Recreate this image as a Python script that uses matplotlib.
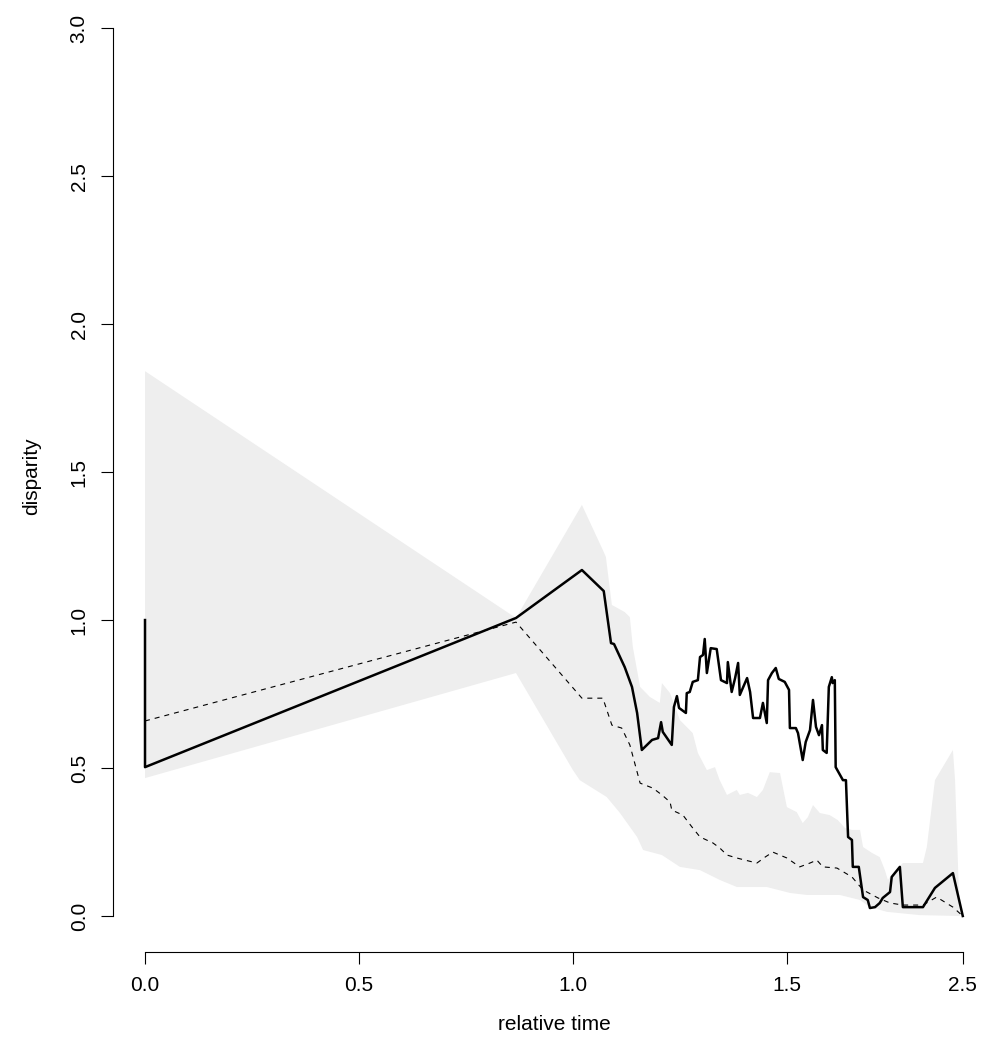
import numpy as np
import matplotlib
matplotlib.use("Agg")
import matplotlib.pyplot as plt

# observed disparity (solid line)
obs_x = [0.0, 0.0, 0.867, 1.021, 1.072, 1.089, 1.096, 1.121, 1.138, 1.150, 1.161,
         1.173, 1.185, 1.199, 1.206, 1.210, 1.231, 1.236, 1.243, 1.248, 1.264, 1.266,
         1.273, 1.280, 1.292, 1.297, 1.304, 1.308, 1.313, 1.322, 1.336, 1.346, 1.360,
         1.362, 1.371, 1.379, 1.386, 1.390, 1.407, 1.414, 1.421, 1.437, 1.444, 1.453,
         1.456, 1.465, 1.474, 1.481, 1.495, 1.505, 1.507, 1.521, 1.526, 1.537, 1.544,
         1.554, 1.561, 1.568, 1.575, 1.582, 1.584, 1.593, 1.598, 1.605, 1.607, 1.612,
         1.614, 1.631, 1.638, 1.643, 1.652, 1.654, 1.668, 1.678, 1.689, 1.694, 1.706,
         1.717, 1.724, 1.741, 1.745, 1.764, 1.771, 1.818, 1.846, 1.888, 1.911]
obs_y = [1.0, 0.503, 1.007, 1.169, 1.098, 0.922, 0.919, 0.841, 0.774, 0.686, 0.561,
         0.578, 0.595, 0.601, 0.655, 0.622, 0.578, 0.706, 0.743, 0.703, 0.686, 0.753,
         0.757, 0.791, 0.797, 0.875, 0.882, 0.936, 0.821, 0.905, 0.902, 0.797, 0.787,
         0.858, 0.757, 0.804, 0.855, 0.747, 0.804, 0.757, 0.669, 0.669, 0.720, 0.652,
         0.797, 0.821, 0.838, 0.801, 0.791, 0.764, 0.635, 0.635, 0.618, 0.527, 0.588,
         0.628, 0.730, 0.639, 0.611, 0.645, 0.561, 0.551, 0.774, 0.807, 0.787, 0.797,
         0.503, 0.459, 0.459, 0.267, 0.257, 0.166, 0.166, 0.064, 0.054, 0.027, 0.030,
         0.044, 0.061, 0.081, 0.132, 0.166, 0.030, 0.030, 0.095, 0.145, 0.0]

# median of simulations (dashed)
med_x = [0.0, 0.867, 1.021, 1.070, 1.091, 1.114, 1.133, 1.157, 1.187, 1.208, 1.227,
         1.231, 1.257, 1.278, 1.297, 1.327, 1.343, 1.360, 1.383, 1.402, 1.430, 1.449,
         1.467, 1.500, 1.530, 1.554, 1.570, 1.584, 1.617, 1.652, 1.678, 1.713, 1.741,
         1.771, 1.818, 1.850, 1.888, 1.911]
med_y = [0.659, 0.993, 0.736, 0.736, 0.645, 0.635, 0.578, 0.449, 0.432, 0.409, 0.385,
         0.358, 0.341, 0.301, 0.267, 0.247, 0.230, 0.206, 0.196, 0.189, 0.179, 0.199,
         0.216, 0.196, 0.166, 0.179, 0.189, 0.166, 0.162, 0.132, 0.088, 0.061, 0.044,
         0.037, 0.037, 0.064, 0.030, 0.0]

# confidence envelope
up_x = [0.0, 0.867, 1.021, 1.072, 1.077, 1.091, 1.121, 1.133, 1.140, 1.157, 1.180,
        1.203, 1.208, 1.227, 1.250, 1.280, 1.292, 1.313, 1.332, 1.343, 1.360, 1.383,
        1.390, 1.409, 1.430, 1.444, 1.460, 1.484, 1.500, 1.523, 1.537, 1.549, 1.561,
        1.577, 1.600, 1.619, 1.636, 1.652, 1.671, 1.678, 1.699, 1.717, 1.729, 1.736,
        1.745, 1.771, 1.818, 1.827, 1.846, 1.888, 1.893, 1.904]
up_y = [1.841, 1.007, 1.389, 1.230, 1.213, 1.051, 1.027, 1.010, 0.909, 0.774, 0.740,
        0.720, 0.787, 0.753, 0.662, 0.618, 0.551, 0.493, 0.503, 0.459, 0.409, 0.426,
        0.409, 0.416, 0.402, 0.426, 0.486, 0.483, 0.368, 0.351, 0.314, 0.334, 0.375,
        0.348, 0.341, 0.324, 0.297, 0.291, 0.291, 0.233, 0.213, 0.199, 0.155, 0.122,
        0.139, 0.179, 0.179, 0.233, 0.459, 0.561, 0.459, 0.0]
lo_x = [0.0, 0.867, 1.0, 1.016, 1.079, 1.110, 1.150, 1.164, 1.208, 1.250, 1.297,
        1.343, 1.383, 1.453, 1.507, 1.547, 1.624, 1.671, 1.694, 1.734, 1.811, 1.904]
lo_y = [0.466, 0.821, 0.493, 0.459, 0.402, 0.348, 0.267, 0.223, 0.206, 0.166, 0.155,
        0.122, 0.098, 0.098, 0.078, 0.071, 0.071, 0.054, 0.030, 0.014, 0.003, 0.0]

xticks = [0.0, 0.5, 1.0, 1.5, 1.911]
xticklabels = ["0.0", "0.5", "1.0", "1.5", "2.5"]
yticks = [0.0, 0.5, 1.0, 1.5, 2.0, 2.5, 3.0]

plt.rcParams['font.family'] = ['Liberation Sans', 'DejaVu Sans']

fig = plt.figure(figsize=(9.94, 10.41), dpi=100)
ax = fig.add_axes([113/994, 89/1041, 881/994, 952/1041])

band_x = up_x + lo_x[::-1]
band_y = up_y + lo_y[::-1]
ax.fill(band_x, band_y, color="#eeeeee", lw=0)
ax.plot(med_x, med_y, color="black", lw=0.8, dashes=(4.5, 4.5))
ax.plot(obs_x, obs_y, color="black", lw=1.8)

ax.set_xlim(-0.0748, 1.984)
ax.set_ylim(-0.1216, 3.095)

for s in ["top", "right"]:
    ax.spines[s].set_visible(False)
ax.spines["left"].set_bounds(0, 3)
ax.spines["bottom"].set_bounds(0, 1.911)
ax.spines["left"].set_linewidth(0.8)
ax.spines["bottom"].set_linewidth(0.8)

ax.set_xticks(xticks)
ax.set_xticklabels(xticklabels)
ax.set_yticks(yticks)
ax.set_yticklabels(["%.1f" % v for v in yticks], rotation=90, va="center")
ax.tick_params(length=8.5, width=0.8, pad=9, labelsize=15)

ax.set_xlabel("relative time", fontsize=15)
ax.set_ylabel("disparity", fontsize=15)
ax.xaxis.set_label_coords(0.5 * (145 + 963) / 994 * 994 / 881 - 113 / 881, -0.066)
ax.yaxis.set_label_coords(-0.0817, 0.5)

fig.savefig("out.png", dpi=100)
